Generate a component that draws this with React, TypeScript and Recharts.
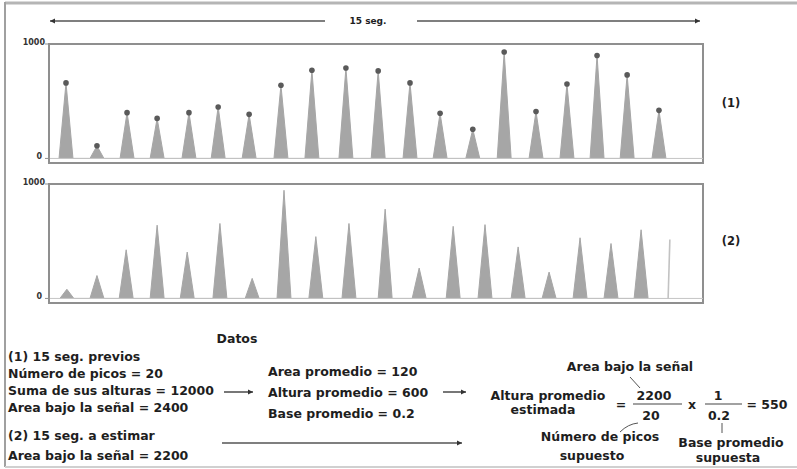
import {
  ComposedChart,
  Area,
  Scatter,
  Line,
  XAxis,
  YAxis,
  ReferenceArea,
  ReferenceLine,
} from "recharts";

// tiempos (s) y alturas de los picos de cada registro de 15 seg.
const peakTimes1 = [0.39, 1.1, 1.79, 2.48, 3.21, 3.88, 4.59, 5.32, 6.03, 6.81, 7.55, 8.28, 8.97, 9.72, 10.44, 11.17, 11.88, 12.57, 13.26, 13.99];
const peakHeights1 = [660, 110, 400, 350, 400, 450, 385, 640, 770, 790, 765, 660, 395, 255, 930, 410, 650, 900, 730, 420];

const peakTimes2 = [0.41, 1.1, 1.77, 2.48, 3.17, 3.92, 4.66, 5.39, 6.12, 6.88, 7.71, 8.49, 9.27, 10.0, 10.76, 11.47, 12.18, 12.89, 13.58];
const peakHeights2 = [80, 200, 425, 640, 405, 655, 175, 945, 540, 655, 780, 265, 630, 645, 450, 230, 530, 480, 600];

// pico que empieza justo al cortar la ventana del registro (2)
const partialTime2 = 14.22;
const partialHeight2 = 515;

const yTicks = [0, 1000];
const yDomain = [-40, 1000];
const HALF = 0.16; // semiancho de la base de cada pico, en segundos

const peakProfile = (times: number[], heights: number[]) =>
  times.flatMap((t, i) => [
    { t: t - HALF, v: 0 },
    { t, v: heights[i] },
    { t: t + HALF, v: 0 },
  ]);

const profile1 = peakProfile(peakTimes1, peakHeights1);
const profile2 = peakProfile(peakTimes2, peakHeights2);
const tops1 = peakTimes1.map((t, i) => ({ t, v: peakHeights1[i] }));
const partial2 = [
  { t: partialTime2 - 0.02, v: 0 },
  { t: partialTime2 + 0.02, v: partialHeight2 },
];

const PEAK = "#a6a6a6";
const BOX = "#8f8f8f";
const INK = "#1e1e1e";
const FONT = "'DejaVu Sans', Verdana, sans-serif";

function AxisTick(props: any) {
  const { y, payload } = props;
  return (
    <g>
      <line x1={45} x2={50} y1={y} y2={y} stroke={BOX} />
      <text
        x={payload.value === 0 ? 42 : 45}
        y={y + 1}
        textAnchor="end"
        fontSize={8}
        fontWeight="bold"
        fill="#333"
        fontFamily={FONT}
      >
        {payload.value}
      </text>
    </g>
  );
}

function PeakPanel({ data, tops, partial }: { data: any[]; tops?: any[]; partial?: any[] }) {
  return (
    <ComposedChart
      width={797}
      height={140}
      data={data}
      margin={{ top: 14, right: 94, bottom: 7, left: 4 }}
    >
      <XAxis dataKey="t" type="number" domain={[0, 15]} hide />
      <YAxis
        type="number"
        domain={yDomain}
        ticks={yTicks}
        width={45}
        axisLine={false}
        tickLine={false}
        tick={<AxisTick />}
        allowDataOverflow
      />
      <ReferenceArea x1={0} x2={15} y1={yDomain[0]} y2={yDomain[1]} fill="none" stroke={BOX} strokeWidth={2} />
      <ReferenceLine y={0} stroke="#c4c4c4" strokeWidth={1} />
      <Area
        type="linear"
        dataKey="v"
        stroke={PEAK}
        strokeWidth={1}
        fill={PEAK}
        fillOpacity={1}
        isAnimationActive={false}
        dot={false}
        activeDot={false}
      />
      {partial && (
        <Line
          data={partial}
          type="linear"
          dataKey="v"
          stroke="#c2c2c2"
          strokeWidth={1.6}
          dot={false}
          activeDot={false}
          isAnimationActive={false}
        />
      )}
      {tops && (
        <Scatter
          data={tops}
          dataKey="v"
          fill="#5a5a5a"
          shape={(p: any) => <circle cx={p.cx} cy={p.cy} r={2.8} fill="#5a5a5a" />}
          isAnimationActive={false}
        />
      )}
    </ComposedChart>
  );
}

function Arrow({ x1, x2, y }: { x1: number; x2: number; y: number }) {
  const dir = x2 > x1 ? 1 : -1;
  return (
    <g>
      <line x1={x1} x2={x2} y1={y} y2={y} stroke="#555" strokeWidth={1.6} />
      <polygon points={`${x2},${y} ${x2 - dir * 5},${y - 2.5} ${x2 - dir * 5},${y + 2.5}`} fill="#333" />
    </g>
  );
}

function T({ x, y, children, anchor = "start", size = 12.5 }: any) {
  return (
    <text x={x} y={y} textAnchor={anchor} fontSize={size} fontWeight="bold" fill={INK} fontFamily={FONT}>
      {children}
    </text>
  );
}

export default function App() {
  return (
    <div style={{ position: "relative", width: 797, height: 469, background: "#fff" }}>
      <style>{`body{margin:0}`}</style>
      <div style={{ position: "absolute", left: 0, top: 30 }}>
        <PeakPanel data={profile1} tops={tops1} />
      </div>
      <div style={{ position: "absolute", left: 0, top: 170 }}>
        <PeakPanel data={profile2} partial={partial2} />
      </div>

      <svg
        width={797}
        height={469}
        style={{ position: "absolute", left: 0, top: 0, pointerEvents: "none" }}
      >
        {/* marco */}
        <line x1={5} x2={797} y1={3} y2={3} stroke="#b5b5b5" strokeWidth={3} />
        <line x1={5} x2={5} y1={2} y2={467} stroke="#a0a0a0" strokeWidth={2} />
        <line x1={5} x2={797} y1={467} y2={467} stroke="#d0d0d0" strokeWidth={2} />

        {/* ventana de 15 seg. */}
        <Arrow x1={325} x2={50} y={21} />
        <Arrow x1={417} x2={700} y={21} />
        <T x={368} y={24} anchor="middle" size={9}>15 seg.</T>

        <T x={731} y={107} anchor="middle" size={11.5}>(1)</T>
        <T x={731} y={245} anchor="middle" size={11.5}>(2)</T>

        {/* datos */}
        <T x={237} y={343} anchor="middle">Datos</T>
        <T x={8} y={361}>(1) 15 seg. previos</T>
        <T x={8} y={378}>Número de picos = 20</T>
        <T x={8} y={395}>Suma de sus alturas = 12000</T>
        <T x={8} y={412}>Area bajo la señal = 2400</T>
        <T x={8} y={440}>(2) 15 seg. a estimar</T>
        <T x={8} y={460}>Area bajo la señal = 2200</T>

        <Arrow x1={224} x2={253} y={392} />
        <T x={268} y={376}>Area promedio = 120</T>
        <T x={268} y={397}>Altura promedio = 600</T>
        <T x={268} y={418}>Base promedio = 0.2</T>
        <Arrow x1={443} x2={466} y={392} />
        <Arrow x1={222} x2={462} y={443} />

        {/* estimación */}
        <T x={630} y={371} anchor="middle">Area bajo la señal</T>
        <line x1={630} y1={377} x2={640} y2={388} stroke="#555" strokeWidth={1} />
        <T x={548} y={400} anchor="middle">Altura promedio</T>
        <T x={543} y={414} anchor="middle">estimada</T>
        <T x={621} y={409} anchor="middle">=</T>
        <T x={654} y={400} anchor="middle">2200</T>
        <line x1={633} x2={682} y1={404} y2={404} stroke="#444" strokeWidth={1.2} />
        <T x={651} y={420} anchor="middle">20</T>
        <T x={692} y={409} anchor="middle">x</T>
        <T x={718} y={400} anchor="middle">1</T>
        <line x1={705} x2={742} y1={404} y2={404} stroke="#444" strokeWidth={1.2} />
        <T x={719} y={420} anchor="middle">0.2</T>
        <T x={767} y={409} anchor="middle">= 550</T>

        <path d="M620,432 Q628,424 638,423" fill="none" stroke="#555" strokeWidth={1} />
        <line x1={722} x2={722} y1={433} y2={423} stroke="#555" strokeWidth={1} />
        <T x={600} y={441} anchor="middle">Número de picos</T>
        <T x={592} y={460} anchor="middle">supuesto</T>
        <T x={731} y={447} anchor="middle">Base promedio</T>
        <T x={728} y={462} anchor="middle">supuesta</T>
      </svg>
    </div>
  );
}
